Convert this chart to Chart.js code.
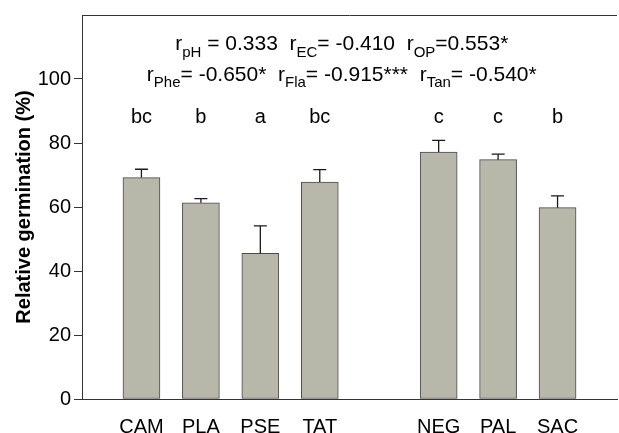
<!doctype html>
<html>
<head>
    <title>Relative germination</title>
    <script src="https://cdn.jsdelivr.net/npm/chart.js@4"></script>
    <meta charset="utf-8">
    <style>
    body { margin: 0; overflow: hidden; background: #fff; }
    #holder { width: 619px; height: 433px; overflow: hidden; }
    </style>
</head>
<body>
    <div id="holder">
        <canvas id="canvasGerm" width="625" height="433"></canvas>
    </div>
    <script>
        // data
        var groupA = ["CAM", "PLA", "PSE", "TAT"];
        var groupB = ["NEG", "PAL", "SAC"];
        var meansA = [69.2, 61.3, 45.5, 67.8];
        var meansB = [77.2, 74.8, 59.8];
        var errA = [2.6, 1.3, 8.6, 3.9];
        var errB = [3.6, 1.7, 3.7];
        var lettersA = ["bc", "b", "a", "bc"];
        var lettersB = ["c", "c", "b"];
        var yTicks = [0, 20, 40, 60, 80, 100];
        var corrLines = [
            "r_{pH} = 0.333  r_{EC}= -0.410  r_{OP}=0.553*",
            "r_{Phe}= -0.650*  r_{Fla}= -0.915***  r_{Tan}= -0.540*"
        ];

        // blank slots make the gap and the margins
        var labels = [""].concat(groupA, [""], groupB, [""]);
        var means = [null].concat(meansA, [null], meansB, [null]);
        var errs = [null].concat(errA, [null], errB, [null]);
        var letters = [""].concat(lettersA, [""], lettersB, [""]);

        var FONT = "'Liberation Sans', Arial, sans-serif";

        function drawRich(ctx, line, cx, cy, size) {
            var parts = [];
            var re = /_\{([^}]*)\}/g, last = 0, m;
            while ((m = re.exec(line)) !== null) {
                if (m.index > last) parts.push({t: line.slice(last, m.index), sub: false});
                parts.push({t: m[1], sub: true});
                last = re.lastIndex;
            }
            if (last < line.length) parts.push({t: line.slice(last), sub: false});
            var subSize = Math.round(size * 0.72);
            var w = 0;
            parts.forEach(function (p) {
                ctx.font = (p.sub ? subSize : size) + "px " + FONT;
                p.w = ctx.measureText(p.t).width;
                w += p.w;
            });
            var x = cx - w / 2;
            ctx.textAlign = "left";
            ctx.textBaseline = "alphabetic";
            parts.forEach(function (p) {
                ctx.font = (p.sub ? subSize : size) + "px " + FONT;
                ctx.fillText(p.t, x, cy + (p.sub ? size * 0.3 : 0));
                x += p.w;
            });
        }

        var extras = {
            id: "extras",
            afterDatasetsDraw: function (chart) {
                var ctx = chart.ctx, xs = chart.scales.x, ys = chart.scales.y;
                var area = chart.chartArea;
                ctx.save();
                // error bars, upper half only
                ctx.strokeStyle = "#1a1a1a";
                ctx.lineWidth = 1.3;
                for (var i = 0; i < means.length; i++) {
                    if (means[i] === null) continue;
                    var x = xs.getPixelForValue(i);
                    var y0 = ys.getPixelForValue(means[i]);
                    var y1 = ys.getPixelForValue(means[i] + errs[i]);
                    ctx.beginPath();
                    ctx.moveTo(x, y0);
                    ctx.lineTo(x, y1);
                    ctx.moveTo(x - 6.5, y1);
                    ctx.lineTo(x + 6.5, y1);
                    ctx.stroke();
                }
                // top frame line
                ctx.strokeStyle = "#333";
                ctx.lineWidth = 1;
                ctx.beginPath();
                ctx.moveTo(area.left, area.top + 0.5);
                ctx.lineTo(area.right, area.top + 0.5);
                ctx.stroke();
                // significance letters
                ctx.fillStyle = "#000";
                ctx.font = "20px " + FONT;
                ctx.textAlign = "center";
                ctx.textBaseline = "middle";
                for (var j = 0; j < letters.length; j++) {
                    if (!letters[j]) continue;
                    ctx.fillText(letters[j], xs.getPixelForValue(j), ys.getPixelForValue(88));
                }
                // correlation coefficients
                drawRich(ctx, corrLines[0], xs.getPixelForValue(4.37), ys.getPixelForValue(109), 21);
                drawRich(ctx, corrLines[1], xs.getPixelForValue(4.37), ys.getPixelForValue(99.5), 21);
                ctx.restore();
            }
        };

        var ctx = document.getElementById("canvasGerm").getContext("2d");
        window.myBar = new Chart(ctx, {
            type: "bar",
            data: {
                labels: labels,
                datasets: [{
                    data: means,
                    backgroundColor: "rgb(183, 184, 170)",
                    borderColor: "#4a4a4a",
                    borderWidth: 1,
                    borderSkipped: false,
                    barThickness: 37
                }]
            },
            plugins: [extras],
            options: {
                responsive: false,
                animation: false,
                layout: { padding: { top: 10, right: 3, left: 0, bottom: 0 } },
                plugins: { legend: { display: false }, tooltip: { enabled: false } },
                scales: {
                    x: {
                        offset: false,
                        afterFit: function (s) { s.height = 34; },
                        grid: { display: false },
                        border: { display: true, color: "#333", width: 1 },
                        ticks: {
                            autoSkip: false,
                            maxRotation: 0,
                            color: "#000",
                            padding: 8,
                            font: { family: FONT, size: 20 }
                        }
                    },
                    y: {
                        min: 0,
                        max: 120,
                        afterFit: function (s) { s.width = 82; },
                        afterBuildTicks: function (s) {
                            s.ticks = [0, 20, 40, 60, 80, 100, 120].map(function (v) { return {value: v}; });
                        },
                        grid: {
                            drawOnChartArea: false,
                            tickLength: 8,
                            color: function (c) { return yTicks.indexOf(c.tick.value) >= 0 ? "#333" : "rgba(0,0,0,0)"; }
                        },
                        border: { display: true, color: "#333", width: 1 },
                        ticks: {
                            color: "#000",
                            padding: 3,
                            font: { family: FONT, size: 20 },
                            callback: function (v) { return yTicks.indexOf(v) >= 0 ? v : ""; }
                        },
                        title: {
                            display: true,
                            text: "Relative germination (%)",
                            color: "#000",
                            padding: { top: 12, bottom: 0 },
                            font: { family: FONT, size: 20, weight: "bold" }
                        }
                    }
                }
            }
        });
    </script>
</body>
</html>
